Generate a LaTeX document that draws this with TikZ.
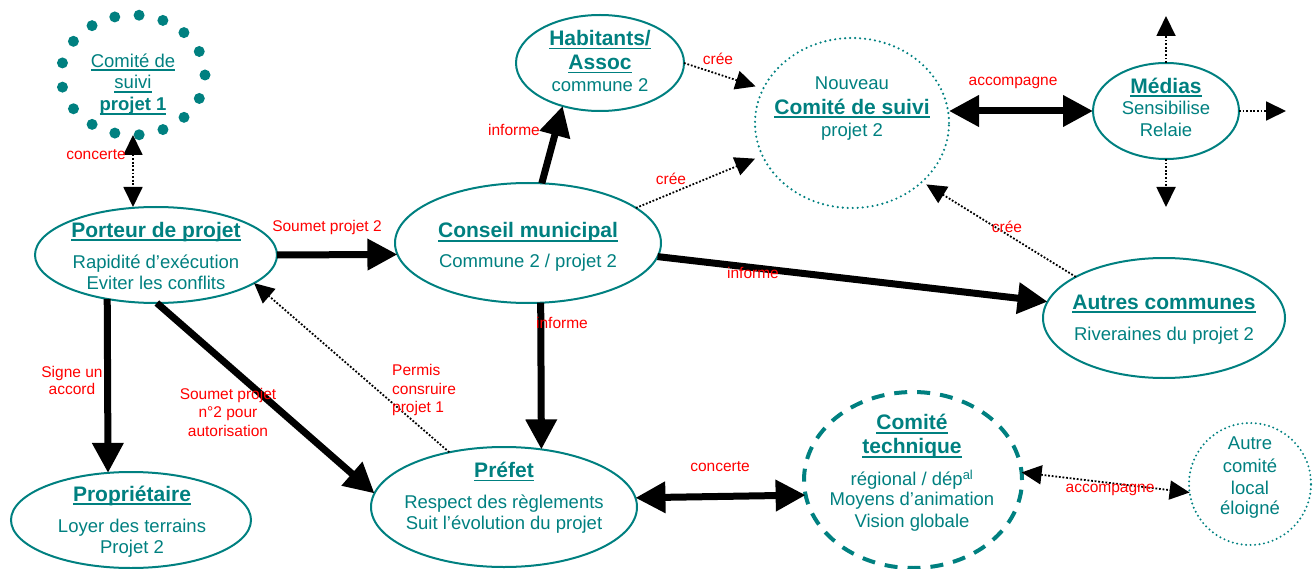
\documentclass[tikz,border=0pt]{standalone}
\usepackage{fontspec}
\setmainfont{Liberation Sans}
\usetikzlibrary{arrows.meta,shapes.geometric,calc}
\definecolor{tealc}{RGB}{0,128,128}
\definecolor{redc}{RGB}{255,0,0}
% underlined heading text
\newcommand\ulx[1]{\setbox0\hbox{#1}\rlap{\rule[-4pt]{\wd0}{1.8pt}}\box0}
\newcommand\hd{\fontsize{21}{24}\selectfont\bfseries}
\tikzset{
  ell/.style={shape=ellipse, draw=tealc, line width=2pt, inner sep=0pt, outer sep=0pt},
  bigdots/.style={shape=ellipse, draw=tealc, line width=11pt, line cap=round,
    dash pattern=on 0pt off 24.45pt, inner sep=0pt, outer sep=0pt},
  dotring/.style={shape=ellipse, draw=tealc, line width=2.4pt, line cap=round,
    dash pattern=on 0pt off 5pt, inner sep=0pt, outer sep=0pt},
  dashring/.style={shape=ellipse, draw=tealc, line width=4pt,
    dash pattern=on 13pt off 10pt, inner sep=0pt, outer sep=0pt},
  txt/.style={text=tealc, align=center, inner sep=0pt, font=\fontsize{18.5}{21.5}\selectfont},
  lbl/.style={text=redc, align=center, inner sep=0pt, font=\fontsize{15.5}{18}\selectfont},
  bigarr/.style={line width=7pt, -{Triangle[length=30pt,width=30pt]}},
  bigdbl/.style={line width=7pt, {Triangle[length=30pt,width=30pt]}-{Triangle[length=30pt,width=30pt]}},
  dotarr/.style={line width=1.8pt, dash pattern=on 1.8pt off 1.8pt, -{Triangle[length=20pt,width=19pt]}},
  dotdbl/.style={line width=1.8pt, dash pattern=on 1.8pt off 1.8pt,
    {Triangle[length=20pt,width=19pt]}-{Triangle[length=20pt,width=19pt]}},
}
\begin{document}
\begin{tikzpicture}[x=1pt,y=-1pt]
\useasboundingbox (0,0) rectangle (1313,569);

% actors
\node[bigdots, minimum width=144pt, minimum height=120pt] (cs1) at (133,75) {};
\node[ell, minimum width=168pt, minimum height=96pt] (hab) at (600,63) {};
\node[dotring, minimum width=194pt, minimum height=170pt] (ncs) at (852,123) {};
\node[ell, minimum width=146pt, minimum height=96pt] (med) at (1166,111) {};
\node[ell, minimum width=242pt, minimum height=96pt] (por) at (156,255) {};
\node[ell, minimum width=266pt, minimum height=120pt] (con) at (528,243) {};
\node[ell, minimum width=242pt, minimum height=120pt] (aut) at (1164,318) {};
\node[ell, minimum width=240pt, minimum height=96pt] (pro) at (131,520) {};
\node[ell, minimum width=266pt, minimum height=120pt] (pre) at (504,507) {};
\node[dashring, minimum width=218pt, minimum height=176pt] (ctq) at (913,480) {};
\node[dotring, line width=2.2pt, dash pattern=on 0pt off 4.5pt, minimum width=122pt, minimum height=122pt] (acl) at (1250,484) {};

% texts
\node[txt] (cs1-t) at (133,84.2) {\ulx{Comité de}\\\ulx{suivi}\\[0.5pt]\textbf{\ulx{projet 1}}};
\node[txt] (hab-t) at (600,60.9) {{\hd\ulx{Habitants/}}\\[2.5pt]{\hd\ulx{Assoc}}\\[0.6pt]commune 2};
\node[txt] (ncs-t) at (852,108.3) {Nouveau\\[3.4pt]{\hd\ulx{Comité de suivi}}\\[0.6pt]projet 2};
\node[txt] (med-t) at (1166,107.3) {{\hd\ulx{Médias}}\\Sensibilise\\[0.5pt]Relaie};
\node[txt] (por-t) at (156,255.9) {{\hd\ulx{Porteur de projet}}\\[9.5pt]Rapidité d’exécution\\Eviter les conflits};
\node[txt] (con-t) at (528,246.9) {{\hd\ulx{Conseil municipal}}\\[8.6pt]Commune 2 / projet 2};
\node[txt] (aut-t) at (1164,319.3) {{\hd\ulx{Autres communes}}\\[9.6pt]Riveraines du projet 2};
\node[txt] (pro-t) at (132,521.8) {{\hd\ulx{Propriétaire}}\\[9.6pt]Loyer des terrains\\Projet 2};
\node[txt] (pre-t) at (504,497.9) {{\hd\ulx{Préfet}}\\[9.6pt]Respect des règlements\\Suit l’évolution du projet};
\node[txt] (ctq-t) at (912,472.8) {{\hd\ulx{Comité}}\\[2.5pt]{\hd\ulx{technique}}\\[10.6pt]régional / dép\textsuperscript{al}\\[-1.5pt]Moyens d’animation\\[0.5pt]Vision globale};
\node[txt] (acl-t) at (1250,477.8) {Autre\\[1.5pt]comité\\local\\[-1.5pt]éloigné};

% free ends of the media arrows
\coordinate (med-up) at (1166,16);
\coordinate (med-dn) at (1166,207);
\coordinate (med-rt) at (1286,111);

% connectors
\draw[dotdbl] (cs1.south) -- (cs1.south |- por.north);
\draw[bigarr] (por.east) -- (con.185.7);
\draw[bigarr] (por.222.5) -- (pro.116.1);
\draw[bigarr] (por.271) -- (pre.174.7);
\draw[dotarr] (pre.135.5) -- (por.344.2);
\draw[bigarr] (con.282.3) -- (pre.57.3);
\draw[bigarr] (con.77.7) -- (hab.229.4);
\draw[dotarr, shorten >=8pt] (con.18.6) -- (ncs.200.9);
\draw[dotarr, shorten >=8pt] (hab.east) -- (ncs.159.6);
\draw[bigdbl] (med.west -| ncs.east) -- (med.west);
\draw[dotarr] (med.north) -- (med-up);
\draw[dotarr] (med.south) -- (med-dn);
\draw[dotarr] (med.east) -- (med-rt);
\draw[bigarr] (con.354.8) -- (aut.172.2);
\draw[dotarr, shorten >=5pt] (aut.155.4) -- (ncs.320.4);
\draw[bigdbl] (pre.4.8) -- (ctq.188.5);
\draw[dotdbl] (ctq.4.7) -- (acl.188.4);

% connector labels
\node[lbl] (l-concerte1) at (96,155) {concerte};
\node[lbl] (l-soumet2) at (327,227) {Soumet projet 2};
\node[lbl, font=\fontsize{15.5}{17}\selectfont] (l-signe) at (72,380.3) {Signe un\\accord};
\node[lbl, font=\fontsize{15.5}{18.5}\selectfont] (l-soumetn2) at (228,412.4) {Soumet projet\\n°2 pour\\autorisation};
\node[lbl, align=left, anchor=west, font=\fontsize{15.5}{18.5}\selectfont] (l-permis) at (392,390) {Permis\\consruire\\projet 1};
\node[lbl] (l-inf-hab) at (514,130) {informe};
\node[lbl] (l-cree-hab) at (718,59) {crée};
\node[lbl] (l-cree-con) at (671,179) {crée};
\node[lbl] (l-acc-med) at (1013,83) {accompagne};
\node[lbl] (l-cree-aut) at (1007,227) {crée};
\node[lbl] (l-inf-aut) at (753,273) {informe};
\node[lbl] (l-inf-pre) at (562,323) {informe};
\node[lbl] (l-concerte2) at (720,467) {concerte};
\node[lbl] (l-acc-acl) at (1110,490) {accompagne};
\end{tikzpicture}
\end{document}
